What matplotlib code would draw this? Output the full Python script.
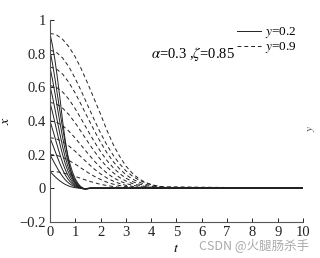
import matplotlib.pyplot as plt

plt.rcParams['font.family'] = ['Liberation Serif', 'DejaVu Serif']
plt.rcParams['mathtext.fontset'] = 'stix'

# time samples (last point: flat tail out to t=10)
t_solid = [0, 0.1, 0.2, 0.3, 0.4, 0.5, 0.6, 0.7, 0.8, 0.9, 1.0, 1.1, 1.2, 1.3, 1.4, 1.5, 1.6, 10]
t_dash = [0, 0.25, 0.5, 0.75, 1.0, 1.25, 1.5, 1.75, 2.0, 2.25, 2.5, 2.75, 3.0,
          3.25, 3.5, 3.75, 4.0, 4.25, 4.5, 10]

# gamma = 0.2 (solid)
x_solid = [
    [.100, .084, .069, .055, .043, .032, .023, .016, .010, .006, .003, .001, 0, -.002, -.002, -.001, 0, 0],
    [.200, .172, .144, .117, .092, .070, .051, .036, .024, .015, .008, .004, .001, -.002, -.003, -.001, 0, 0],
    [.300, .262, .222, .182, .144, .110, .081, .057, .038, .024, .013, .006, .002, -.002, -.003, -.001, 0, 0],
    [.400, .352, .300, .248, .198, .152, .113, .080, .054, .034, .019, .009, .003, -.002, -.003, -.002, 0, 0],
    [.510, .452, .388, .322, .259, .200, .149, .106, .072, .046, .027, .013, .004, -.002, -.004, -.002, 0, 0],
    [.610, .544, .470, .393, .318, .248, .186, .134, .092, .059, .035, .018, .006, -.001, -.004, -.003, 0, 0],
    [.720, .647, .563, .474, .386, .303, .229, .166, .115, .075, .045, .024, .009, 0, -.004, -.003, 0, 0],
    [.820, .742, .650, .551, .452, .358, .273, .200, .140, .092, .056, .030, .012, .001, -.004, -.003, 0, 0],
    [.920, .848, .760, .650, .530, .400, .290, .190, .115, .060, .030, .012, .002, -.004, -.005, -.002, 0, 0],
]

# gamma = 0.9 (dashed)
x_dash = [
    [.100, .098, .091, .082, .070, .057, .044, .033, .023, .016, .010, .006, .004, .002, .001, 0, 0, 0, 0, 0],
    [.200, .196, .184, .165, .143, .118, .093, .071, .052, .036, .024, .016, .010, .006, .003, .002, .001, 0, 0, 0],
    [.300, .294, .277, .251, .219, .183, .148, .114, .085, .061, .042, .028, .017, .011, .006, .004, .002, .001, 0, 0],
    [.400, .393, .372, .339, .298, .252, .206, .162, .123, .090, .063, .043, .028, .018, .011, .006, .004, .002, .001, 0],
    [.510, .501, .476, .437, .388, .332, .275, .220, .170, .127, .092, .064, .043, .028, .018, .011, .006, .004, .002, 0],
    [.610, .600, .572, .528, .472, .408, .342, .277, .218, .165, .122, .087, .060, .040, .026, .016, .010, .006, .003, 0],
    [.720, .709, .678, .628, .565, .492, .417, .343, .273, .211, .158, .115, .081, .055, .037, .024, .015, .009, .005, 0],
    [.820, .808, .774, .721, .652, .573, .490, .407, .328, .257, .196, .145, .104, .073, .050, .033, .021, .013, .008, 0],
    [.920, .912, .885, .840, .780, .705, .620, .530, .440, .345, .260, .190, .132, .090, .058, .036, .022, .012, .006, 0],
]

xticks = [0, 1, 2, 3, 4, 5, 6, 7, 8, 9, 10]
yticks = [-0.2, 0, 0.2, 0.4, 0.6, 0.8, 1]
ytick_labels = ['\u22120.2', '0', '0.2', '0.4', '0.6', '0.8', '1']

fig = plt.figure(figsize=(3.2, 2.58), dpi=100)
ax = fig.add_axes([0.156, 0.14, 0.791, 0.783])

lc = '#222222'
for i, xs in enumerate(x_solid):
    ax.plot(t_solid, xs, c=lc, lw=0.7, label='$y$=0.2' if i == 0 else None)
for i, xd in enumerate(x_dash):
    ax.plot(t_dash, xd, c=lc, lw=0.7, ls=(0, (4, 3)), label='$y$=0.9' if i == 0 else None)

ax.set_xlim(0, 10)
ax.set_ylim(-0.2, 1)
ax.set_xticks(xticks)
ax.set_yticks(yticks)
ax.set_yticklabels(ytick_labels)
ax.tick_params(direction='in', length=3, width=0.7, labelsize=10.5, pad=3, colors='#222222')
for s in ['top', 'right']:
    ax.spines[s].set_visible(False)
for s in ['left', 'bottom']:
    ax.spines[s].set_linewidth(0.8)
    ax.spines[s].set_color('#555555')

ax.set_xlabel('$t$', fontsize=10, labelpad=2)
ax.set_ylabel('$x$', fontsize=10, labelpad=5)

leg = ax.legend(loc='upper right', bbox_to_anchor=(0.995, 1.0), frameon=False, fontsize=9.5,
                handlelength=1.8, handletextpad=0.3, labelspacing=0.0, borderaxespad=0)
ax.text(0.40, 0.83, r'$\alpha$=0.3 ,$\zeta$=0.85', transform=ax.transAxes, fontsize=10.5,
        va='center')

fig.text(0.99, 0.5, '$y$', rotation=90, fontsize=8, ha='right', va='center', color='#444444')
fig.text(0.965, 0.05, 'CSDN @火腿肠杀手', ha='right', va='center', fontsize=9, color='#aaaaaa',
         family=['Noto Sans CJK SC', 'DejaVu Sans'])

fig.savefig('out.png', dpi=100)
